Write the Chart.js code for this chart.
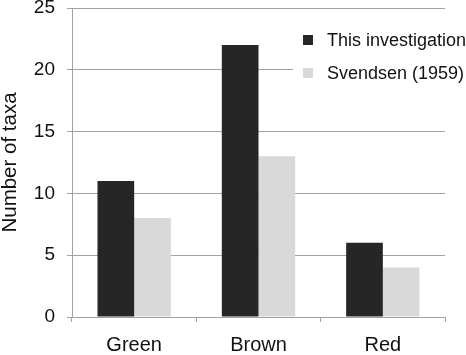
<!DOCTYPE html>
<html>
<head>
<meta charset="utf-8">
<script src="https://cdn.jsdelivr.net/npm/chart.js@4"></script>
<style>
html,body{margin:0;padding:0;background:#fff;}
#wrap{width:466px;height:355px;position:relative;}
</style>
</head>
<body>
<div id="wrap"><canvas id="c" width="466" height="355"></canvas></div>
<script>
const categories = ['Green', 'Brown', 'Red'];
const seriesLabels = ['This investigation', 'Svendsen (1959)'];
const thisInvestigation = [11, 22, 6];
const svendsen1959 = [8, 13, 4];
const yMin = 0, yMax = 25, yStep = 5;
const seriesColors = ['#262626', '#d9d9d9'];
const yTitle = 'Number of taxa';

const FONT = "'Liberation Sans', Arial, Helvetica, sans-serif";
const GRID = '#a3a3a3';

const legendPlugin = {
  id: 'customLegend',
  afterDraw(chart) {
    const ctx = chart.ctx;
    ctx.save();
    ctx.fillStyle = '#fff';
    ctx.fillRect(293, 22, chart.chartArea.right - 293 + 21, 66);
    const ys = [40, 73];
    chart.data.datasets.forEach((ds, i) => {
      ctx.fillStyle = ds.backgroundColor;
      ctx.fillRect(303, ys[i] - 5, 10, 10);
      ctx.fillStyle = '#111';
      ctx.font = '18px ' + FONT;
      ctx.textBaseline = 'middle';
      ctx.textAlign = 'left';
      ctx.fillText(ds.label, 327, ys[i] + 1);
    });
    ctx.restore();
  }
};

new Chart(document.getElementById('c'), {
  type: 'bar',
  data: {
    labels: categories,
    datasets: [
      { label: seriesLabels[0], data: thisInvestigation, backgroundColor: seriesColors[0] },
      { label: seriesLabels[1], data: svendsen1959, backgroundColor: seriesColors[1] }
    ]
  },
  options: {
    responsive: false,
    animation: false,
    devicePixelRatio: 1,
    layout: { padding: { top: 0, right: 21, bottom: 0, left: 0 } },
    datasets: { bar: { categoryPercentage: 0.59, barPercentage: 1.0, borderWidth: 0 } },
    plugins: { legend: { display: false }, tooltip: { enabled: false } },
    scales: {
      x: {
        grid: { drawOnChartArea: false, drawTicks: true, tickLength: 5, color: GRID, offset: true },
        border: { color: GRID, width: 1 },
        ticks: { color: '#111', font: { family: FONT, size: 20 }, padding: 11 },
        afterFit(s) { s.height = 38; s.paddingLeft = 0; s.paddingRight = 0; }
      },
      y: {
        min: yMin, max: yMax,
        grid: { color: GRID, tickLength: 5, drawTicks: true },
        border: { color: GRID, width: 1 },
        ticks: { stepSize: yStep, color: '#111', font: { family: FONT, size: 19 }, padding: 12 },
        title: { display: true, text: yTitle, color: '#111', font: { family: FONT, size: 20.5, lineHeight: 1.0 }, padding: { top: 0, bottom: 0 } },
        afterFit(s) { s.width = 72; s.paddingTop = 8; s.paddingBottom = 0; }
      }
    }
  },
  plugins: [legendPlugin]
});
</script>
</body>
</html>
